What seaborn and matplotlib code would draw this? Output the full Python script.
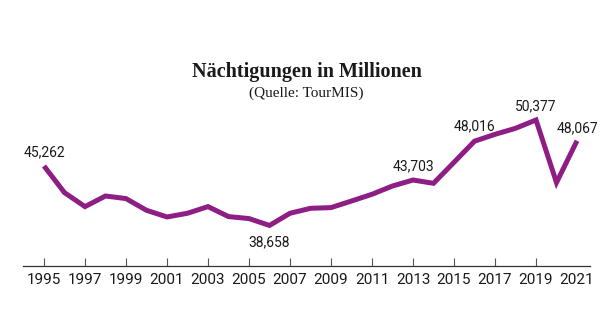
import matplotlib
matplotlib.use("Agg")
import matplotlib.pyplot as plt
import seaborn as sns
import pandas as pd

years = list(range(1995, 2022))
values = [45.262, 42.30, 40.75, 41.93, 41.64, 40.34, 39.60, 40.01, 40.75, 39.64,
          39.42, 38.658, 40.01, 40.56, 40.64, 41.37, 42.12, 43.04, 43.703, 43.34,
          45.67, 48.016, 48.78, 49.45, 50.377, 43.42, 48.067]
label_years = [1995, 2006, 2013, 2016, 2019, 2021]
label_texts = ["45,262", "38,658", "43,703", "48,016", "50,377", "48,067"]
label_below = [False, True, False, False, False, False]
tick_years = list(range(1995, 2022, 2))

df = pd.DataFrame({"Jahr": years, "Wert": values})

sns.set_theme(style="white")
plt.rcParams["font.family"] = ["Roboto", "DejaVu Sans"]

fig = plt.figure(figsize=(6.13, 3.3), dpi=100)
ax = fig.add_axes([23/613, 1-266/330, (590-23)/613, (266-100)/330])

color = "#8E1E84"
sns.lineplot(data=df, x="Jahr", y="Wert", ax=ax, color=color, linewidth=3.6,
             solid_joinstyle="miter", solid_capstyle="butt")

ax.set_xlim(1995 - 21/20.5, 2021 + 13/20.5)
ax.set_ylim(45.262 - 100/9, 45.262 + 66/9)

offsets = {1995: 5, 2006: -7, 2013: 5, 2016: 6, 2019: 5, 2021: 4}
for y, t, below in zip(label_years, label_texts, label_below):
    v = values[years.index(y)]
    if below:
        ax.annotate(t, (y, v), xytext=(0, offsets[y]), textcoords="offset points",
                    ha="center", va="top", fontsize=10, color="#1a1a1a")
    else:
        ax.annotate(t, (y, v), xytext=(0, offsets[y]), textcoords="offset points",
                    ha="center", va="bottom", fontsize=10, color="#1a1a1a")

for s in ["top", "left", "right"]:
    ax.spines[s].set_visible(False)
ax.spines["bottom"].set_color("#333333")
ax.spines["bottom"].set_linewidth(0.9)
ax.set_yticks([])
ax.set_xticks(tick_years)
ax.set_xticklabels([str(y) for y in tick_years], fontsize=11, color="#1a1a1a")
ax.tick_params(axis="x", direction="in", length=6, width=0.8, color="#555555", pad=5,
               bottom=True)
for tk in ax.xaxis.get_major_ticks():
    if abs(tk.get_loc() - 2021) < 0.1:
        tk.tick1line.set_visible(False)
ax.set_xlabel("")
ax.set_ylabel("")

fig.text(0.5, 1-72/330, "Nächtigungen in Millionen", ha="center", va="center",
         fontsize=14.5, fontweight="bold", family=["Liberation Serif", "DejaVu Serif"],
         color="#1a1a1a")
fig.text(0.5, 1-93/330, "(Quelle: TourMIS)", ha="center", va="center",
         fontsize=11, family=["Liberation Serif", "DejaVu Serif"], color="#1a1a1a")

fig.savefig("out.png", dpi=100)
